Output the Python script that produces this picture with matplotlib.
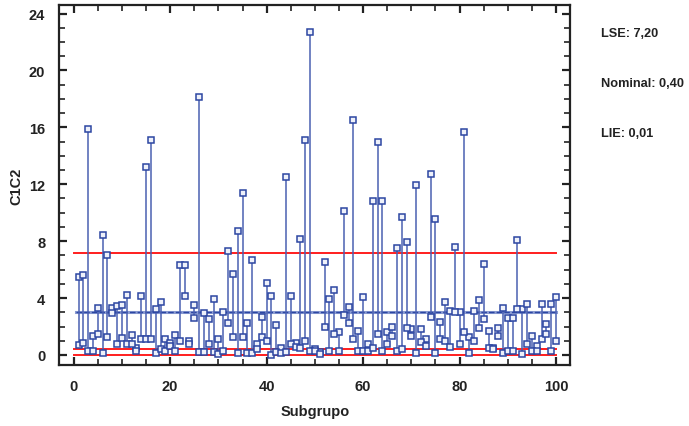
import matplotlib
matplotlib.use("Agg")
import matplotlib.pyplot as plt
from matplotlib.ticker import MultipleLocator
import numpy as np

# Subgroup numbers and the two readings taken in each subgroup
subgroups = list(range(1, 101))
high = [5.5, 5.6, 15.9, 1.35, 3.3, 8.4, 7.05, 3.3, 3.45, 3.5,
        4.25, 1.4, 0.5, 4.15, 13.2, 15.1, 3.2, 3.7, 1.1, 0.85,
        1.4, 6.3, 6.3, 0.95, 3.5, 18.15, 2.95, 2.5, 3.95, 1.15,
        3.0, 7.3, 5.7, 8.7, 11.4, 2.25, 6.7, 0.8, 2.7, 5.05,
        4.15, 2.1, 0.5, 12.5, 4.15, 0.85, 8.15, 15.1, 22.7, 0.4,
        0.2, 6.5, 3.9, 4.6, 1.6, 10.1, 3.35, 16.55, 1.7, 4.05,
        0.8, 10.85, 15.0, 10.85, 1.6, 2.0, 7.5, 9.7, 7.95, 1.8,
        11.95, 1.8, 1.1, 12.75, 9.55, 2.35, 3.7, 3.1, 7.6, 3.05,
        15.7, 1.25, 3.1, 3.85, 6.4, 1.7, 0.5, 1.9, 3.3, 2.6,
        2.6, 8.05, 3.2, 3.6, 1.3, 0.6, 3.6, 2.2, 3.6, 4.05]
low = [0.7, 0.85, 0.3, 0.3, 1.5, 0.15, 1.25, 2.95, 0.8, 1.2,
       0.8, 0.75, 0.3, 1.1, 1.1, 1.1, 0.15, 0.4, 0.3, 0.6,
       0.3, 1.0, 4.15, 0.8, 2.6, 0.2, 0.2, 0.8, 0.2, 0.1,
       0.3, 2.25, 1.25, 0.15, 1.25, 0.15, 0.15, 0.4, 1.25, 0.95,
       0.0, 0.2, 0.15, 0.2, 0.8, 0.55, 0.5, 0.95, 0.25, 0.3,
       0.1, 2.0, 0.25, 1.5, 0.25, 2.8, 2.25, 1.1, 0.25, 0.25,
       0.25, 0.5, 1.5, 0.25, 0.8, 1.35, 0.25, 0.4, 1.9, 1.3,
       0.15, 0.9, 0.65, 2.7, 0.15, 1.15, 1.0, 0.55, 3.05, 0.8,
       1.6, 0.15, 1.0, 1.9, 2.5, 0.5, 0.45, 1.3, 0.15, 0.3,
       0.3, 3.2, 0.05, 0.8, 0.25, 0.3, 1.1, 1.5, 0.3, 0.95]

# Specification limits and centre line
LSE = 7.20
NOMINAL = 0.40
LIE = 0.01
CENTER = 3.03

plt.rcParams['font.family'] = ['Liberation Sans', 'DejaVu Sans']
INK = '#222222'

fig = plt.figure(figsize=(6.89, 4.27), dpi=100)
ax = fig.add_axes([0.086, 0.143, 0.742, 0.843])

x = np.array(subgroups)
hi = np.array(high)
lo = np.array(low)

ax.vlines(x, lo, hi, colors='#4a60b2', linewidth=1.1, zorder=3)
for vals in (hi, lo):
    ax.plot(x, vals, linestyle='none', marker='s', markersize=5.0,
            markerfacecolor='#eef1fa', markeredgecolor='#2c46a2',
            markeredgewidth=1.1, zorder=4)

red = '#ff1e1e'
for lim in (LSE, NOMINAL, LIE):
    ax.plot([0, 100], [lim, lim], color=red, linewidth=1.4, zorder=2)

ax.plot([0.5, 100], [CENTER, CENTER], color='#8a9bd2', linewidth=2.2, zorder=2)
ax.plot([0.5, 100], [CENTER, CENTER], color='#2c46a2', linewidth=1.0,
        dashes=(4, 1.5), zorder=2)

ax.set_xlim(-3, 103)
ax.set_ylim(-0.7, 24.6)
ax.xaxis.set_major_locator(MultipleLocator(20))
ax.xaxis.set_minor_locator(MultipleLocator(5))
ax.yaxis.set_major_locator(MultipleLocator(4))
ax.yaxis.set_minor_locator(MultipleLocator(1))
ax.tick_params(which='both', direction='in', top=True, right=True, color=INK)
ax.tick_params(which='major', length=6, width=1.6, labelsize=10.5, pad=10)
ax.tick_params(which='minor', length=4, width=1.2)
for lab in ax.get_xticklabels() + ax.get_yticklabels():
    lab.set_fontweight('bold')
    lab.set_color(INK)
for sp in ax.spines.values():
    sp.set_linewidth(1.6)
    sp.set_color(INK)

ax.set_xlabel('Subgrupo', fontsize=10.5, fontweight='bold', color=INK,
              labelpad=8)
ax.set_ylabel('C1C2', fontsize=10.5, fontweight='bold', color=INK,
              labelpad=4)

for ypos, txt in ((0.92, 'LSE: 7,20'), (0.803, 'Nominal: 0,40'),
                  (0.686, 'LIE: 0,01')):
    fig.text(0.872, ypos, txt, fontsize=9.2, fontweight='bold', color=INK,
             va='center')

fig.savefig('out.png', dpi=100)
